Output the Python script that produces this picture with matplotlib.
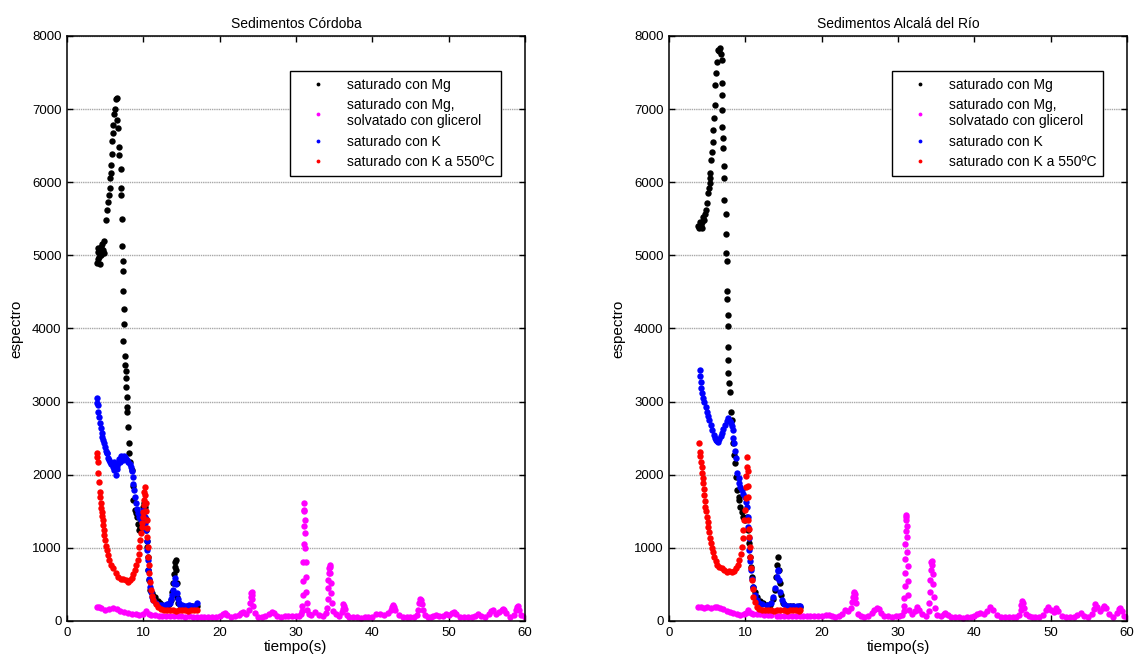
import numpy as np
import matplotlib.pyplot as plt

plt.rcParams['font.family'] = ['Liberation Sans', 'DejaVu Sans']

# ---------------------------------------------------------
# Datos: Sedimentos Córdoba
# ---------------------------------------------------------

cor_mg_x = [3.9, 4.0, 4.05, 4.1, 4.2, 4.3, 4.35, 4.4, 4.5, 4.6, 4.7, 4.8, 4.9, 5.07, 5.2, 5.33,
            5.5, 5.63, 5.63, 5.72, 5.77, 5.93, 5.93, 6.03, 5.99, 6.16, 6.29, 6.42, 6.55,
            6.6, 6.7, 6.85, 6.85, 7.03, 7.03, 7.03, 7.16, 7.16, 7.29, 7.29, 7.29, 7.42, 7.42,
            7.38, 7.6, 7.6, 7.69, 7.69, 7.73, 7.82, 7.9, 7.86, 8.03, 8.12, 8.16, 8.3, 8.47,
            8.6, 8.69, 8.85, 9.0, 9.13, 9.3, 9.47, 9.6, 9.75, 9.9, 10.0, 10.1, 10.2, 10.3,
            10.4, 10.47, 10.52, 10.57, 10.66, 10.75, 10.87, 11.1, 11.3, 11.53, 11.9, 12.2,
            12.5, 12.8, 13.1, 13.4, 13.6, 13.8, 13.95, 14.05, 14.12, 14.18, 14.24, 14.3,
            14.36, 14.45, 14.6, 14.9, 15.2, 15.5, 15.8, 16.1, 16.4, 16.7, 17.0]
cor_mg_y = [4900, 5050, 4950, 5100, 4980, 5060, 4880, 5120, 5000, 5150, 5080, 5030, 5200, 5484, 5620, 5734,
            5825, 5920, 6058, 6126, 6236, 6386, 6564, 6678, 6783, 6933, 7002, 7138, 7152,
            6851, 6742, 6486, 6373, 6181, 5921, 5826, 5497, 5128, 4927, 4790, 4513, 4271, 4065,
            3829, 3628, 3501, 3423, 3323, 3200, 3067, 2930, 2862, 2657, 2438, 2297, 2180, 2065,
            1850, 1655, 1520, 1480, 1426, 1330, 1244, 1280, 1350, 1450, 1560, 1620, 1560, 1400,
            1250, 1100, 1016, 879, 697, 560, 424, 380, 345, 333, 270, 242,
            220, 205, 210, 230, 290, 400, 520, 640, 740, 810, 834, 700,
            520, 330, 240, 210, 200, 195, 205, 190, 200, 195, 200]

# muestra solvatada con glicerol: pares (tiempo, espectro)
cor_gli = [(3.9, 196), (4.2, 185), (4.5, 175), (5.0, 150), (5.5, 165), (6.0, 173), (6.5, 160),
           (7.0, 140), (7.5, 125), (8.0, 114), (8.5, 100), (9.0, 90), (9.5, 82), (10.0, 95),
           (10.35, 140), (10.7, 100), (11.0, 80), (11.5, 75), (12.0, 68), (12.5, 70), (13.0, 65),
           (13.5, 68), (14.0, 65), (14.5, 62), (15.0, 68), (15.5, 60), (16.0, 62), (16.5, 58),
           (17.0, 60), (17.5, 55), (18.0, 58), (18.5, 55), (19.0, 60), (19.5, 58), (20.0, 70),
           (20.4, 95), (20.7, 114), (21.0, 80), (21.5, 60), (22.0, 62), (22.5, 80), (22.8, 115),
           (23.1, 123), (23.4, 100), (23.8, 150), (24.0, 250), (24.1, 330), (24.15, 380),
           (24.2, 401), (24.25, 360), (24.3, 300), (24.4, 200), (24.6, 110), (25.0, 60),
           (25.5, 55), (26.0, 70), (26.5, 90), (26.8, 123), (27.1, 110), (27.5, 70), (28.0, 60),
           (28.5, 65), (29.0, 62), (29.5, 70), (30.0, 65), (30.4, 70), (30.7, 90), (30.8, 130),
           (30.85, 200), (30.9, 350), (30.93, 550), (30.96, 800), (30.99, 1050), (31.02, 1300),
           (31.05, 1500), (31.08, 1609), (31.11, 1520), (31.14, 1380), (31.17, 1200), (31.2, 1000),
           (31.25, 800), (31.3, 600), (31.35, 400), (31.4, 250), (31.5, 150), (31.7, 100),
           (32.0, 80), (32.5, 123), (33.0, 80), (33.5, 70), (33.9, 110), (34.05, 180), (34.15, 300),
           (34.2, 450), (34.25, 560), (34.3, 650), (34.35, 720), (34.4, 766), (34.45, 740),
           (34.5, 650), (34.55, 520), (34.6, 380), (34.7, 240), (34.9, 140), (35.3, 90), (35.7, 70),
           (36.0, 120), (36.1, 170), (36.2, 232), (36.3, 200), (36.4, 160), (36.7, 80), (37.0, 55),
           (37.5, 50), (38.0, 48), (38.5, 45), (39.0, 50), (39.5, 55), (40.0, 60), (40.5, 90),
           (41.0, 100), (41.5, 80), (42.0, 110), (42.4, 150), (42.6, 190), (42.7, 214), (42.8, 190),
           (43.0, 150), (43.5, 80), (44.0, 60), (44.5, 55), (45.0, 50), (45.5, 55), (45.9, 80),
           (46.05, 150), (46.15, 240), (46.25, 305), (46.35, 280), (46.45, 230), (46.6, 150),
           (46.9, 80), (47.3, 60), (47.7, 55), (48.0, 65), (48.3, 80), (48.7, 70), (49.2, 70),
           (49.7, 100), (50.0, 80), (50.4, 110), (50.7, 123), (51.0, 90), (51.5, 60), (52.0, 55),
           (52.5, 50), (53.0, 60), (53.5, 70), (53.9, 100), (54.3, 65), (54.8, 60), (55.3, 90),
           (55.6, 140), (55.85, 155), (56.2, 100), (56.6, 120), (57.0, 150), (57.1, 168),
           (57.2, 150), (57.5, 110), (58.0, 60), (58.5, 80), (58.8, 150), (58.95, 190),
           (59.05, 200), (59.2, 150), (59.5, 80), (60.0, 50)]

cor_k_x = [3.89, 3.95, 4.02, 4.1, 4.19, 4.32, 4.43, 4.54, 4.65, 4.76, 4.87, 4.98, 5.1, 5.2, 5.28,
           5.4, 5.5, 5.63, 5.75, 5.85, 5.98, 6.1, 6.2, 6.3, 6.42, 6.5, 6.6, 6.72, 6.82, 6.95,
           7.05, 7.16, 7.3, 7.45, 7.6, 7.75, 7.9, 8.03, 8.2, 8.34, 8.47, 8.6, 8.7, 8.78, 8.9,
           9.04, 9.2, 9.34, 9.5, 9.65, 9.8, 9.9, 10.0, 10.1, 10.2, 10.28, 10.35, 10.44, 10.52,
           10.6, 10.66, 10.75, 10.87, 11.0, 11.15, 11.31, 11.6, 11.9, 12.18, 12.5, 12.8, 13.1,
           13.3, 13.49, 13.65, 13.8, 13.93, 14.05, 14.15, 14.25, 14.37, 14.5, 14.65, 14.8, 15.1,
           15.4, 15.7, 16.0, 16.3, 16.6, 16.99]
cor_k_y = [3054, 2980, 2954, 2860, 2794, 2703, 2640, 2567, 2520, 2475, 2430, 2384, 2330, 2300, 2293,
           2230, 2200, 2179, 2140, 2150, 2110, 2180, 2060, 2140, 1997, 2080, 2120, 2156, 2220, 2180,
           2250, 2247, 2200, 2250, 2247, 2220, 2200, 2179, 2150, 2110, 2050, 1973, 1880, 1791, 1700,
           1610, 1530, 1473, 1420, 1381, 1430, 1480, 1518, 1500, 1420, 1340, 1244, 1100, 971,
           830, 697, 580, 469, 400, 330, 287, 250, 225, 219, 215, 225, 230,
           235, 242, 300, 360, 424, 520, 584, 500, 380, 300, 250, 219, 220,
           210, 205, 215, 200, 210, 240]

cor_k550_x = [3.89, 3.95, 4.02, 4.1, 4.19, 4.28, 4.35, 4.41, 4.48, 4.54, 4.6, 4.67, 4.74, 4.8, 4.9,
              4.98, 5.1, 5.2, 5.35, 5.54, 5.8, 6.07, 6.4, 6.72, 7.05, 7.38, 7.7, 8.03, 8.25, 8.47,
              8.7, 8.91, 9.1, 9.26, 9.38, 9.47, 9.6, 9.7, 9.8, 9.87, 9.95, 10.0, 10.05, 10.09,
              10.15, 10.22, 10.28, 10.35, 10.4, 10.44, 10.48, 10.52, 10.6, 10.66, 10.72, 10.78,
              10.87, 10.96, 11.1, 11.31, 11.6, 11.96, 12.3, 12.7, 13.1, 13.5, 13.9, 14.3, 14.7,
              15.1, 15.5, 15.9, 16.3, 16.7, 17.0]
cor_k550_y = [2293, 2240, 2179, 2028, 1905, 1768, 1690, 1610, 1550, 1495, 1440, 1381, 1310, 1244, 1170,
              1108, 1030, 971, 900, 834, 770, 721, 660, 606, 580, 570, 555, 537, 555, 584,
              640, 697, 760, 834, 920, 1016, 1110, 1199, 1280, 1336, 1420, 1495, 1580, 1655,
              1760, 1837, 1720, 1610, 1500, 1381, 1270, 1153, 1010, 879, 760, 652,
              530, 424, 340, 287, 230, 196, 170, 155, 150, 145, 150, 140, 150,
              145, 150, 140, 150, 145, 150]

# ---------------------------------------------------------
# Datos: Sedimentos Alcalá del Río
# ---------------------------------------------------------

alc_mg_x = [3.84, 3.97, 4.05, 4.15, 4.27, 4.35, 4.49, 4.6, 4.7, 4.84, 5.01, 5.14, 5.23, 5.3, 5.37,
            5.42, 5.45, 5.58, 5.71, 5.8, 5.89, 6.02, 6.08, 6.15, 6.33, 6.46, 6.55, 6.68, 6.75,
            6.9, 6.9, 6.99, 6.99, 6.99, 7.12, 7.12, 7.25, 7.25, 7.25, 7.43, 7.43, 7.43, 7.56,
            7.56, 7.56, 7.69, 7.69, 7.69, 7.77, 7.77, 7.9, 7.99, 8.08, 8.21, 8.34, 8.51, 8.64,
            8.77, 8.95, 9.1, 9.21, 9.35, 9.52, 9.7, 9.95, 10.1, 10.26, 10.4, 10.53, 10.62, 10.7,
            10.83, 11.05, 11.25, 11.49, 11.9, 12.36, 12.8, 13.24, 13.6, 13.89, 14.05, 14.2,
            14.33, 14.45, 14.55, 14.7, 14.99, 15.4, 15.8, 16.2, 16.6, 17.0, 17.2]
alc_mg_y = [5400, 5370, 5450, 5420, 5461, 5380, 5529, 5480, 5560, 5620, 5712, 5848, 5917, 5990, 6053,
            6121, 6304, 6418, 6555, 6714, 6874, 7056, 7330, 7489, 7649, 7809, 7790, 7832, 7750,
            7672, 7353, 7193, 6988, 6751, 6601, 6464, 6222, 6053, 5757, 5566, 5292, 5028, 4927,
            4517, 4399, 4185, 4034, 3751, 3569, 3387, 3250, 3136, 2863, 2749, 2430, 2270, 2156,
            1974, 1791, 1700, 1655, 1560, 1495, 1420, 1381, 1400, 1427, 1244, 1062, 880, 740,
            606, 469, 390, 332, 270, 242, 225, 219, 300, 424, 600, 760,
            880, 700, 515, 350, 242, 210, 200, 200, 195, 200, 195]

alc_gli = [(3.84, 196), (4.2, 190), (4.6, 180), (5.0, 185), (5.5, 175), (6.0, 190), (6.24, 196),
           (6.7, 180), (7.1, 160), (7.56, 137), (8.0, 120), (8.4, 105), (8.86, 96), (9.3, 85),
           (9.8, 90), (10.1, 110), (10.4, 150), (10.7, 110), (11.0, 96), (11.5, 90), (11.92, 96),
           (12.4, 85), (12.9, 80), (13.4, 75), (14.1, 73), (14.6, 70), (15.1, 72), (15.6, 70),
           (16.1, 73), (16.6, 70), (17.1, 73), (17.6, 70), (18.1, 73), (18.5, 68), (19.0, 65),
           (19.5, 62), (20.0, 70), (20.5, 78), (20.9, 82), (21.3, 65), (21.8, 60), (22.3, 70),
           (22.7, 95), (23.06, 150), (23.4, 130), (23.8, 180), (24.0, 260), (24.1, 330),
           (24.18, 380), (24.28, 401), (24.35, 370), (24.42, 320), (24.5, 250), (24.7, 100),
           (25.1, 65), (25.6, 60), (26.1, 70), (26.6, 110), (26.9, 150), (27.2, 173), (27.5, 160),
           (27.8, 110), (28.2, 70), (28.7, 65), (29.2, 60), (29.7, 62), (30.1, 70), (30.5, 80),
           (30.75, 130), (30.8, 200), (30.84, 320), (30.87, 480), (30.9, 650), (30.93, 850),
           (30.96, 1050), (30.99, 1230), (31.02, 1380), (31.06, 1450), (31.1, 1420), (31.14, 1300),
           (31.18, 1150), (31.22, 950), (31.26, 750), (31.3, 550), (31.35, 350), (31.5, 150),
           (31.8, 90), (32.2, 130), (32.5, 196), (32.8, 150), (33.2, 90), (33.6, 70), (34.0, 130),
           (34.1, 250), (34.18, 400), (34.25, 560), (34.32, 700), (34.38, 800), (34.44, 820),
           (34.5, 760), (34.56, 640), (34.62, 500), (34.7, 330), (34.85, 180), (35.1, 80),
           (35.6, 65), (36.0, 95), (36.2, 114), (36.5, 80), (37.0, 55), (37.5, 50), (38.0, 48),
           (38.5, 45), (39.0, 50), (39.5, 55), (40.0, 70), (40.4, 100), (40.8, 114), (41.2, 100),
           (41.7, 140), (42.1, 196), (42.5, 150), (43.0, 80), (43.5, 60), (44.0, 55), (44.5, 50),
           (45.0, 55), (45.5, 60), (45.9, 80), (46.05, 150), (46.15, 220), (46.25, 278),
           (46.35, 250), (46.5, 180), (46.8, 100), (47.2, 65), (47.6, 60), (48.0, 55), (48.5, 60),
           (49.0, 80), (49.4, 150), (49.7, 196), (50.0, 150), (50.4, 120), (50.7, 178), (51.0, 130),
           (51.5, 70), (52.0, 55), (52.5, 50), (53.0, 60), (53.5, 75), (54.0, 105), (54.4, 70),
           (54.9, 60), (55.4, 100), (55.7, 170), (55.85, 232), (56.1, 190), (56.5, 130),
           (56.9, 180), (57.0, 205), (57.3, 180), (57.7, 90), (58.2, 60), (58.7, 110), (58.9, 160),
           (59.05, 178), (59.3, 140), (59.6, 70), (60.0, 50)]

alc_k_x = [4.06, 4.1, 4.15, 4.25, 4.37, 4.5, 4.63, 4.78, 4.93, 5.1, 5.28, 5.48, 5.68, 5.85, 6.02,
           6.15, 6.3, 6.46, 6.6, 6.75, 6.9, 7.1, 7.34, 7.55, 7.77, 7.92, 8.08, 8.2, 8.34, 8.43,
           8.51, 8.65, 8.78, 8.95, 9.1, 9.21, 9.35, 9.52, 9.75, 9.96, 10.08, 10.17, 10.28, 10.4,
           10.47, 10.53, 10.62, 10.7, 10.82, 10.96, 11.2, 11.49, 11.8, 12.2, 12.8, 13.3, 13.67,
           13.9, 14.11, 14.22, 14.33, 14.45, 14.6, 14.8, 15.1, 15.5, 15.9, 16.3, 16.7, 17.16]
alc_k_y = [3432, 3350, 3273, 3180, 3113, 3050, 2999, 2930, 2863, 2800, 2749, 2680, 2612, 2550, 2498,
           2470, 2460, 2452, 2490, 2530, 2566, 2620, 2680, 2730, 2771, 2740, 2703, 2660, 2612, 2500,
           2430, 2330, 2225, 2019, 1950, 1883, 1830, 1791, 1740, 1700, 1630, 1563, 1420, 1290,
           1130, 971, 820, 697, 580, 469, 360, 287, 250, 230, 219, 250, 332,
           450, 606, 680, 697, 560, 400, 280, 230, 210, 200, 205, 200, 200]

alc_k550_x = [3.97, 4.06, 4.12, 4.19, 4.26, 4.32, 4.41, 4.5, 4.56, 4.63, 4.7, 4.76, 4.85, 4.93, 5.04,
              5.15, 5.26, 5.37, 5.48, 5.59, 5.75, 5.9, 6.1, 6.33, 6.6, 6.9, 7.2, 7.56, 7.9, 8.21,
              8.5, 8.78, 9.0, 9.21, 9.38, 9.52, 9.63, 9.74, 9.85, 9.96, 10.03, 10.09, 10.13, 10.17,
              10.26, 10.3, 10.35, 10.4, 10.4, 10.47, 10.53, 10.58, 10.62, 10.72, 10.83, 10.94,
              11.05, 11.25, 11.49, 11.8, 12.2, 12.6, 13.0, 13.4, 13.8, 14.2, 14.6, 15.0, 15.4,
              15.8, 16.2, 16.6, 17.0, 17.2]
alc_k550_y = [2430, 2315, 2250, 2179, 2100, 2019, 1950, 1883, 1800, 1723, 1640, 1563, 1500, 1427, 1360,
              1290, 1210, 1131, 1060, 994, 940, 880, 820, 766, 740, 720, 700, 675, 680, 675,
              690, 720, 770, 834, 920, 1017, 1130, 1244, 1380, 1518, 1680, 1837, 1980, 2110,
              2247, 2050, 1850, 1700, 1381, 1260, 1153, 1010, 880, 720, 561, 440,
              332, 260, 196, 170, 155, 150, 145, 150, 140, 150, 145, 150, 140,
              150, 145, 150, 140, 150]

cor_gli_x, cor_gli_y = zip(*cor_gli)
alc_gli_x, alc_gli_y = zip(*alc_gli)

paneles = [
    ("Sedimentos Córdoba", cor_mg_x, cor_mg_y, cor_gli_x, cor_gli_y,
     cor_k_x, cor_k_y, cor_k550_x, cor_k550_y),
    ("Sedimentos Alcalá del Río", alc_mg_x, alc_mg_y, alc_gli_x, alc_gli_y,
     alc_k_x, alc_k_y, alc_k550_x, alc_k550_y),
]

etiquetas = ["saturado con Mg", "saturado con Mg,\nsolvatado con glicerol",
             "saturado con K", "saturado con K a 550ºC"]
colores = ["black", "#ff00ff", "#0000ff", "#ff0000"]

# ---------------------------------------------------------
# Figura
# ---------------------------------------------------------

fig = plt.figure(figsize=(11.39, 6.64), dpi=100)
posiciones = [[0.0588, 0.0648, 0.4021, 0.881], [0.5874, 0.0648, 0.4021, 0.881]]

for pos, (titulo, *series) in zip(posiciones, paneles):
    ax = fig.add_axes(pos)
    pares = [(series[i], series[i + 1]) for i in range(0, 8, 2)]
    for (xs, ys), c, lab in zip(pares, colores, etiquetas):
        ax.plot(xs, ys, 'o', color=c, ms=4.6, mew=0, label=lab)

    ax.set_xlim(0, 60)
    ax.set_ylim(0, 8000)
    ax.set_xticks(np.arange(0, 61, 10))
    ax.set_yticks(np.arange(0, 8001, 1000))
    ax.yaxis.grid(True, color='#a8a8a8', linestyle=(0, (1, 0.6)), linewidth=1.0)
    ax.set_axisbelow(True)
    ax.tick_params(direction='in', top=True, right=True, length=4, width=1,
                   labelsize=9.5, pad=4)
    for s in ax.spines.values():
        s.set_linewidth(1.1)

    ax.set_title(titulo, fontsize=10, pad=6)
    ax.set_xlabel("tiempo(s)", fontsize=11, labelpad=1)
    ax.set_ylabel("espectro", fontsize=11, labelpad=6)

    leg = ax.legend(loc='upper left', bbox_to_anchor=(0.487, 0.94), borderaxespad=0,
                    fontsize=10, frameon=True, fancybox=False, edgecolor='black',
                    framealpha=1, markerscale=0.6, handlelength=3.0, handletextpad=0.6,
                    labelspacing=0.45, borderpad=0.5)
    leg.get_frame().set_linewidth(1.0)

plt.savefig("out.png", dpi=100)
